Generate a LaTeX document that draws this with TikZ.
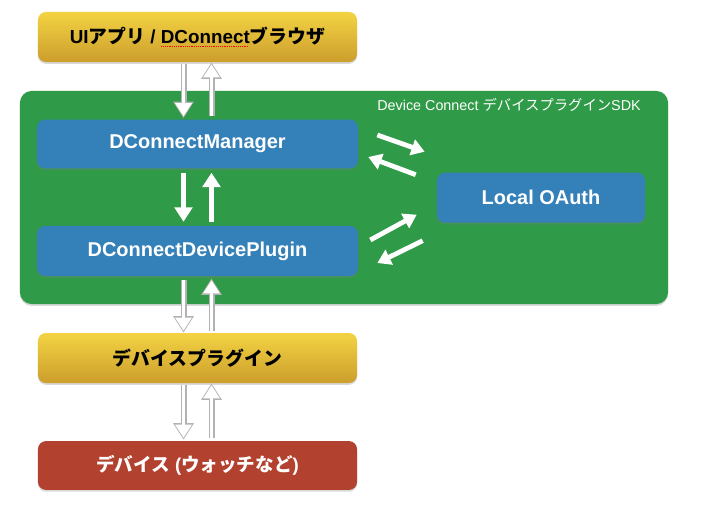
\documentclass[tikz,border=0pt]{standalone}
\usepackage{fontspec}
\setmainfont{Liberation Sans}
\newfontfamily\jp{Noto Sans CJK JP}
\usetikzlibrary{arrows.meta,shadows,calc}

\definecolor{appyellowtop}{HTML}{F3D343}
\definecolor{appyellowbot}{HTML}{CC9E2C}
\definecolor{coreblue}{HTML}{3480B8}
\definecolor{sdkgreen}{HTML}{2F9A47}
\definecolor{devred}{HTML}{B2412F}

% red dotted spell-check line under a word
\newcommand{\spellmark}[1]{\setbox0\hbox{#1}\rlap{\textcolor{red}{\leaders\hbox to 1.3pt{\hss\rule[-2.2pt]{0.6pt}{0.6pt}\hss}\hskip\wd0}}\box0}

\tikzset{
  box/.style={rounded corners=0.2cm, inner sep=0pt,
    drop shadow={shadow xshift=0pt, shadow yshift=-1.3pt, opacity=0.3}},
  appbox/.style={box, top color=appyellowtop, bottom color=appyellowbot,
    minimum width=7.975cm, minimum height=1.25cm,
    font=\fontsize{13.4}{15}\selectfont\bfseries},
  corebox/.style={box, fill=coreblue, text=white,
    minimum width=8.025cm, minimum height=1.22cm,
    font=\fontsize{14.2}{16}\selectfont\bfseries},
  devbox/.style={box, fill=devred, text=white,
    minimum width=7.975cm, minimum height=1.22cm,
    font=\fontsize{13.2}{15}\selectfont\bfseries},
  sdkbox/.style={box, fill=sdkgreen, rounded corners=0.3cm,
    minimum width=16.2cm, minimum height=5.33cm},
  sdklabel/.style={text=white, inner sep=0pt, font=\fontsize{10.2}{12}\selectfont},
  hollowarrow/.style={draw=white, line width=0.09cm,
    -{Triangle[width=0.4cm,length=0.33cm]},
    preaction={draw=gray!60, line width=0.15cm, shorten >=-0.045cm,
      -{Triangle[width=0.49cm,length=0.41cm]}}},
  whitearrow/.style={draw=white, line width=0.12cm,
    -{Triangle[width=0.44cm,length=0.36cm]}},
  diagarrow/.style={draw=white, line width=0.12cm,
    -{Triangle[width=0.4cm,length=0.33cm]}},
}

\begin{document}
\begin{tikzpicture}[x=0.025cm,y=-0.025cm]
\useasboundingbox (0,0) rectangle (703,527);

% boxes
\node[appbox] (ui) at (197.5,37) {UI{\jp アプリ} / \spellmark{DConnect}{\jp ブラウザ}};
\node[sdkbox] (sdk) at (344,197.5) {};
\node[sdklabel, anchor=east] (sdktitle) at (641,105) {Device Connect {\jp デバイスプラグイン}SDK};
\node[corebox] (mgr) at (197.5,144) {DConnectManager};
\node[corebox, minimum height=1.25cm] (plug) at (197.5,251) {DConnectDevicePlugin};
\node[corebox, minimum width=5.2cm, minimum height=1.25cm] (oauth) at (541,197.7) {Local OAuth};
\node[appbox] (devplugin) at (197.5,358) {\jp デバイスプラグイン};
\node[devbox] (dev) at (197.5,465.5) {{\jp デバイス} ({\jp ウォッチなど})};

% ends of the slanted arrows
\coordinate (m1) at ($(mgr.east)+(19,-9)$);
\coordinate (m2) at ($(mgr.east)+(10,13)$);
\coordinate (p1) at ($(plug.east)+(12,-11)$);
\coordinate (p2) at ($(plug.east)+(19,12)$);
\coordinate (o1) at ($(oauth.west)+(-12,-46)$);
\coordinate (o2) at ($(oauth.west)+(-21,-23)$);
\coordinate (o3) at ($(oauth.west)+(-20,17)$);
\coordinate (o4) at ($(oauth.west)+(-14,43)$);

% arrows
\draw[hollowarrow] ($(ui.south)+(-14,2)$) -- ($(mgr.north)+(-14,-3)$);
\draw[hollowarrow] ($(mgr.north)+(14,-3)$) -- ($(ui.south)+(14,2)$);
\draw[whitearrow] ($(mgr.south)+(-14,4)$) -- ($(plug.north)+(-14,-4)$);
\draw[whitearrow] ($(plug.north)+(14,-4)$) -- ($(mgr.south)+(14,4)$);
\draw[hollowarrow] ($(plug.south)+(-14,4)$) -- ($(devplugin.north)+(-14,-2)$);
\draw[hollowarrow] ($(devplugin.north)+(14,-2)$) -- ($(plug.south)+(14,4)$);
\draw[hollowarrow] ($(devplugin.south)+(-14,2)$) -- ($(dev.north)+(-14,-3)$);
\draw[hollowarrow] ($(dev.north)+(14,-3)$) -- ($(devplugin.south)+(14,2)$);

\draw[diagarrow] (m1) -- (o1);
\draw[diagarrow] (o2) -- (m2);
\draw[diagarrow] (p1) -- (o3);
\draw[diagarrow] (o4) -- (p2);
\end{tikzpicture}
\end{document}
